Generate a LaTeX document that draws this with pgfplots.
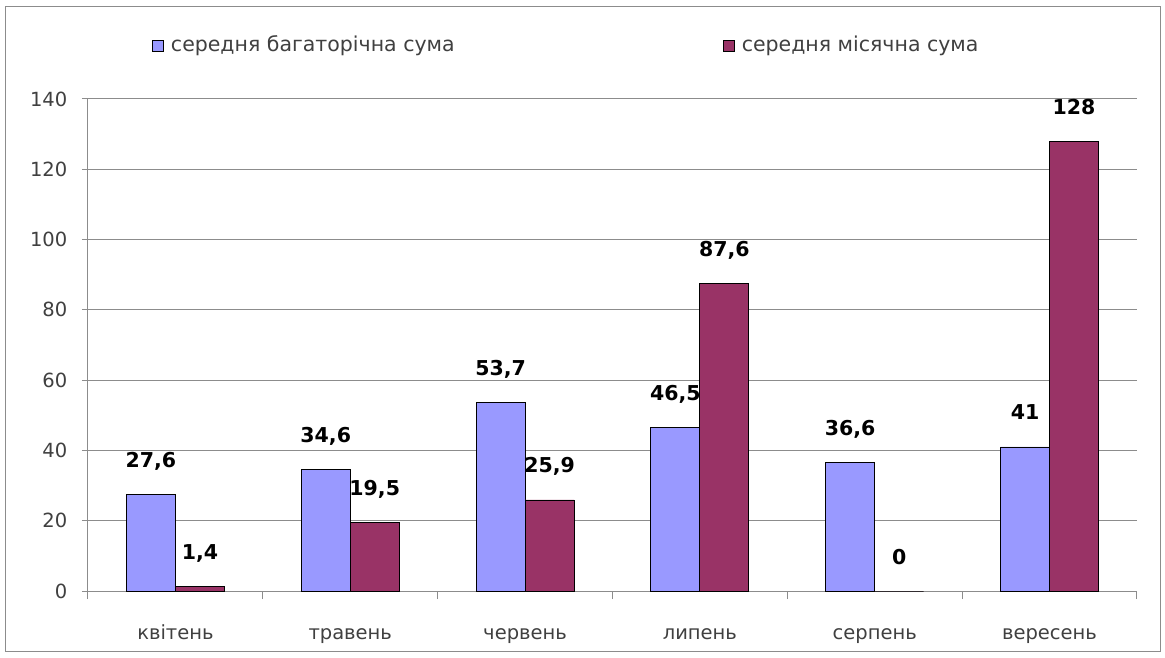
\documentclass[border=0pt]{standalone}
\usepackage{pgfplots}
\pgfplotsset{compat=1.18}
\usepackage{fontspec}
\setmainfont{DejaVu Sans}
\definecolor{cblue}{HTML}{9999FF}
\definecolor{cpurp}{HTML}{993366}
\definecolor{gridc}{HTML}{8C8C8C}
\definecolor{txt}{HTML}{404040}
\begin{document}
\fontsize{19.5}{23}\selectfont
\begin{tikzpicture}
\path[fill=white] (-88pt,-66pt) rectangle (1077pt,591pt);
\begin{axis}[
  scale only axis, width=1049pt, height=492pt,
  xmin=-0.5, xmax=5.5, ymin=0, ymax=140,
  ybar=0pt, bar width=49pt,
  axis x line*=bottom, axis y line*=left,
  axis line style={gridc, line width=1pt},
  xtick={0,1,2,3,4,5},
  xticklabels={квітень,травень,червень,липень,серпень,вересень},
  major x tick style={draw=none},
  minor xtick={-0.5,0.5,1.5,2.5,3.5,4.5,5.5},
  minor x tick style={gridc, line width=1pt},
  minor tick length=8pt,
  ytick={0,20,40,60,80,100,120,140},
  major y tick style={gridc, line width=1pt},
  major tick length=6pt,
  tick align=outside,
  ymajorgrids, major grid style={gridc, line width=1pt},
  /pgf/number format/assume math mode=true,
  xticklabel style={anchor=base, yshift=-42pt, text=txt},
  yticklabel style={text=txt, xshift=-8pt},
  nodes near coords={\fontsize{20.5}{24}\selectfont\bfseries\pgfmathprintnumber[assume math mode=true,use comma]{\pgfplotspointmeta}},
  every node near coord/.append style={anchor=base, yshift=27pt, text=black},
  legend columns=2,
  legend style={at={(0.061,1.1098)}, anchor=west, draw=none, fill=none, inner sep=0pt, text=txt, font=\fontsize{20.5}{24}\selectfont},
  legend image code/.code={\draw[#1,draw=black,line width=0.8pt] (0pt,-6pt) rectangle (11pt,5pt);},
]
\addplot[fill=cblue, draw=black, line width=0.8pt] coordinates {(0,27.6) (1,34.6) (2,53.7) (3,46.5) (4,36.6) (5,41)};
\addlegendentry{\makebox[555pt][l]{\hspace{5pt}середня багаторічна сума}}
\addplot[fill=cpurp, draw=black, line width=0.8pt] coordinates {(0,1.4) (1,19.5) (2,25.9) (3,87.6) (4,0) (5,128)};
\addlegendentry{\hspace{5pt}середня місячна сума}
\end{axis}
\draw[gridc, line width=1pt] (-82pt,-60pt) rectangle (1072pt,584pt);
\end{tikzpicture}
\end{document}
